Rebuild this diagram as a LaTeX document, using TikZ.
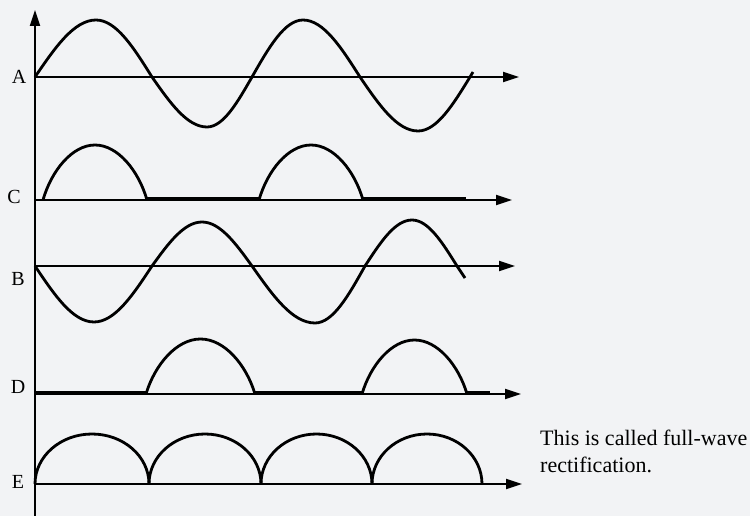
\documentclass[tikz,border=0pt]{standalone}
\usepackage{fontspec}
\setmainfont{Liberation Serif}
\usetikzlibrary{arrows.meta}
\definecolor{bgc}{RGB}{242,243,245}
% #1 x0, #2 x1, #3 axis y, #4 height, #5 p, #6 q, #7 r (Bezier shape factors)
\newcommand\myhump[7]{%
  \draw[wave] (#1,#3) .. controls ({#1+#5*(#2-#1)/2},{#3-#6*#4}) and ({#1+#7*(#2-#1)/2},{#3-#4}) .. ({(#1+#2)/2},{#3-#4})
    .. controls ({#2-#7*(#2-#1)/2},{#3-#4}) and ({#2-#5*(#2-#1)/2},{#3-#6*#4}) .. (#2,#3);}
\newcommand\halfhump[4]{\myhump{#1}{#2}{#3}{#4}{0.16}{0.53}{0.56}}
\newcommand\archump[4]{\myhump{#1}{#2}{#3}{#4}{0}{0.5523}{0.4477}}
\begin{document}
\begin{tikzpicture}[x=1pt, y=-1pt,
  axis/.style={line width=1.8pt, -{Triangle[length=16pt,width=10pt]}},
  wave/.style={line width=2.8pt, line join=round},
  flat/.style={line width=4pt},
  lbl/.style={font=\fontsize{20}{24}\selectfont, inner sep=0pt}]
\fill[bgc] (0,0) rectangle (750,516);
\useasboundingbox (0,0) rectangle (750,516);
% vertical axis
\coordinate (ybot) at (35,516);
\coordinate (ytop) at (35,10);
\draw[axis] (ybot) -- (ytop);
% horizontal axes
\coordinate (A0) at (35,77);  \coordinate (A1) at (519,77);
\coordinate (C0) at (35,200); \coordinate (C1) at (512,200);
\coordinate (B0) at (35,266); \coordinate (B1) at (515,266);
\coordinate (D0) at (35,394); \coordinate (D1) at (521,394);
\coordinate (E0) at (35,484); \coordinate (E1) at (522,484);
\draw[axis] (A0) -- (A1);
\draw[axis] (C0) -- (C1);
\draw[axis] (B0) -- (B1);
\draw[axis] (D0) -- (D1);
\draw[axis] (E0) -- (E1);
% labels
\node[lbl] (labA) at (19,77) {A};
\node[lbl] (labC) at (14,197) {C};
\node[lbl] (labB) at (18,279) {B};
\node[lbl] (labD) at (18,387) {D};
\node[lbl] (labE) at (18,482) {E};
% A wave
\draw[wave] (35,77) sin (96,20) cos (152,77) sin (207,127) cos (252,77)
  sin (303,20) cos (360,77) sin (418,131) cos (470,77) -- (473,72);
% B wave
\draw[wave] (35,266) sin (94,322) cos (152,266) sin (202,222) cos (252,266)
  sin (315,323) cos (365,266) sin (412,220) cos (457,266) -- (465,278);
% C half-wave
\halfhump{43}{147}{200}{55}
\draw[flat] (147,199) -- (259,199);
\halfhump{259}{363}{200}{55}
\draw[flat] (363,199) -- (466,199);
% D half-wave
\draw[flat] (35,393) -- (146,393);
\halfhump{146}{255}{394}{55}
\draw[flat] (255,393) -- (362,393);
\halfhump{362}{467}{394}{54}
\draw[flat] (467,393) -- (490,393);
% E full-wave
\archump{35}{149}{484}{50}
\archump{149}{261}{484}{50}
\archump{261}{372}{484}{50}
\archump{372}{482}{484}{50}
% note (base anchor = baseline of the last line)
\node[anchor=base west, align=left, inner sep=0pt,
  font=\fontsize{22}{27}\selectfont] (note) at (540,472)
  {This is called full-wave\\rectification.};
\end{tikzpicture}
\end{document}
